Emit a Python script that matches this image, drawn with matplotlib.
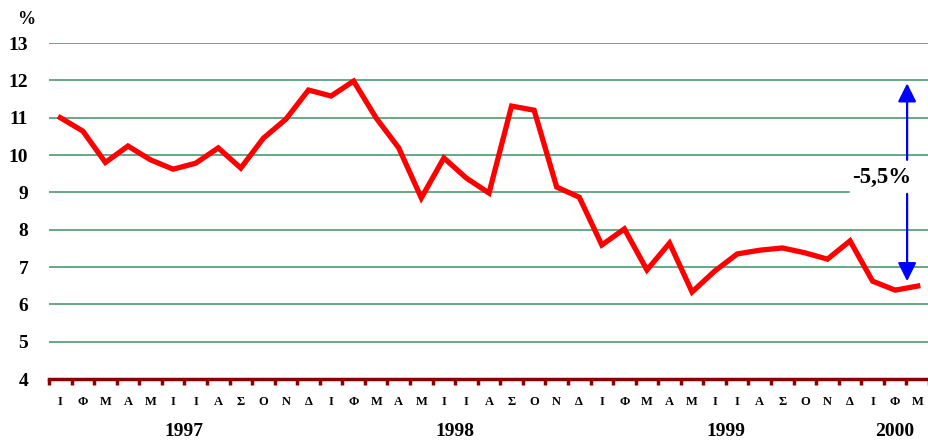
import numpy as np
import matplotlib.pyplot as plt

# monthly rate, Jan 1997 - Mar 2000
values = [11.0, 10.64, 9.8, 10.24, 9.87, 9.62, 9.78, 10.19, 9.65, 10.45, 10.96, 11.74,
          11.58, 11.98, 10.99, 10.19, 8.85, 9.92, 9.38, 8.98, 11.31, 11.2, 9.14, 8.87,
          7.59, 8.02, 6.92, 7.64, 6.33, 6.89, 7.35, 7.45, 7.51, 7.38, 7.21, 7.70,
          6.62, 6.38, 6.49]
month_letters = ['Ι', 'Φ', 'Μ', 'Α', 'Μ', 'Ι', 'Ι', 'Α', 'Σ', 'Ο', 'Ν', 'Δ']
month_labels = month_letters * 3 + month_letters[:3]
years = ['1997', '1998', '1999', '2000']
year_centers = [6, 18, 30, 37.5]
change_label = '-5,5%'

serif = ['Liberation Serif', 'DejaVu Serif']
dark_red = '#8b0000'
grid_col = '#3f8f66'

fig = plt.figure(figsize=(9.29, 4.41), dpi=100)
ax = fig.add_axes([49/929, 1 - 379/441, 880/929, 336/441])

x = np.arange(len(values)) + 0.5
ax.plot(x, values, color='#ff0000', lw=3.8, solid_joinstyle='miter', zorder=3)

ax.set_xlim(0, len(values))
ax.set_ylim(4, 13)
for v in range(5, 14):
    # the 9% line stops short where the label box sits
    ax.axhline(v, xmax=(800/880 if v == 9 else 1), color=grid_col, lw=1.1, zorder=1)

for s in ['top', 'right', 'left']:
    ax.spines[s].set_visible(False)
ax.spines['bottom'].set_color(dark_red)
ax.spines['bottom'].set_linewidth(2.5)

ax.set_yticks(range(4, 14))
ax.set_yticklabels([str(v) for v in range(4, 14)], family=serif, fontsize=14, fontweight='bold')
ax.tick_params(axis='y', length=0, pad=15)

ax.set_xticks(np.arange(len(values) + 1))
ax.set_xticklabels([])
ax.tick_params(axis='x', which='major', direction='out', length=4, width=2.5, color=dark_red)
ax.set_xticks(x, minor=True)
ax.set_xticklabels(month_labels, minor=True, family=serif, fontsize=9, fontweight='bold')
ax.tick_params(axis='x', which='minor', length=0, pad=12)

for yr, c in zip(years, year_centers):
    ax.text(c, -0.155, yr, transform=ax.get_xaxis_transform(), ha='center', va='center',
            family=serif, fontsize=14, fontweight='bold')

fig.text(17/929, 1 - 20/441, '%', family=serif, fontsize=13, fontweight='bold', ha='left', va='center')

# change arrow
ax.annotate('', xy=(38.03, 11.92), xytext=(38.03, 9.87),
            arrowprops=dict(arrowstyle='-|>', color='#0000ff', lw=1.6, mutation_scale=28,
                            shrinkA=0, shrinkB=0))
ax.annotate('', xy=(38.03, 6.62), xytext=(38.03, 8.96),
            arrowprops=dict(arrowstyle='-|>', color='#0000ff', lw=1.6, mutation_scale=28,
                            shrinkA=0, shrinkB=0))
ax.text(36.9, 9.41, change_label, ha='center', va='center', family=serif, fontsize=16.5,
        fontweight='bold', zorder=4)

fig.savefig('out.png', dpi=100)
